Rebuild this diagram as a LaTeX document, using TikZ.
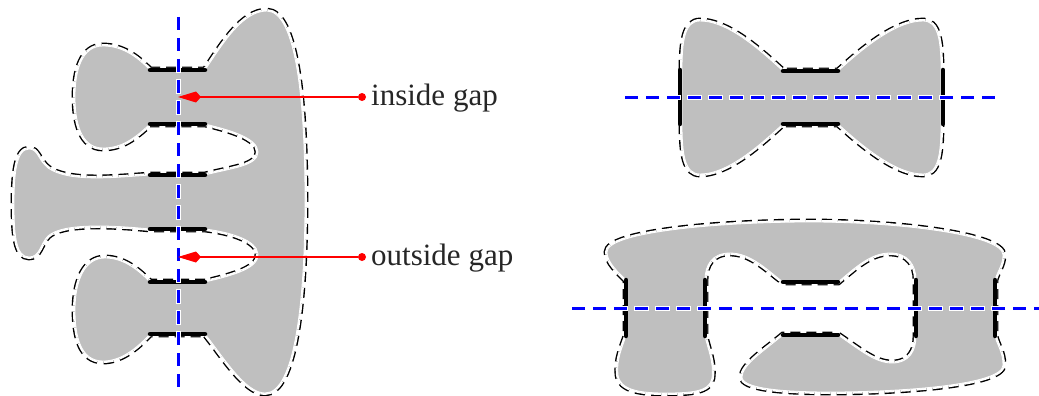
\documentclass[tikz,border=0pt]{standalone}
\usepackage{fontspec}
\setmainfont{Liberation Serif}
\usetikzlibrary{arrows.meta}
\definecolor{shapegray}{gray}{0.75}
\tikzset{
  outlinedash/.style={draw=black, line width=1.4pt, double=white, double distance=4pt, dash pattern=on 10pt off 6pt},
  region/.style={fill=shapegray, draw=white, line width=0.8pt},
  gapbar/.style={draw=black, line width=4.5pt, line cap=round},
  axisback/.style={draw=white, line width=5pt, dash pattern=on 15pt off 6pt, dash phase=1pt},
  axisfront/.style={draw=blue, line width=3pt, dash pattern=on 13pt off 8pt},
  reddot/.style={circle, fill=red, inner sep=0pt, minimum size=8pt},
  redarrow/.style={draw=red, line width=1.2pt, -{Kite[length=23pt, width=11pt, inset=5pt]}},
  lbl/.style={anchor=base west, inner sep=0pt, font=\fontsize{31}{36}\selectfont, text=black!85}
}
\begin{document}
\begin{tikzpicture}[x=1pt, y=-1pt]
\useasboundingbox (0,0) rectangle (1039,396);

% ---------- left shape ----------
\def\leftshape{(150,70) -- (205,70)
  .. controls (222,45) and (242,11) .. (267,11)
  .. controls (296,12) and (305,100) .. (305,200)
  .. controls (305,300) and (295,393) .. (265,393)
  .. controls (245,393) and (222,355) .. (205,334)
  -- (150,334)
  .. controls (135,350) and (120,361) .. (103,361)
  .. controls (80,361) and (75,335) .. (75,310)
  .. controls (75,280) and (85,258) .. (105,258)
  .. controls (125,258) and (140,272) .. (150,282)
  -- (205,282)
  .. controls (235,275) and (259,268) .. (258,254)
  .. controls (257,240) and (230,232) .. (205,229)
  -- (150,229)
  .. controls (110,225) and (62,223) .. (48,236)
  .. controls (40,244) and (40,257) .. (29,257)
  .. controls (16,257) and (14,235) .. (14,205)
  .. controls (14,175) and (16,149) .. (29,149)
  .. controls (38,149) and (38,160) .. (48,168)
  .. controls (68,182) and (110,178) .. (150,175)
  -- (205,175)
  .. controls (232,168) and (258,166) .. (258,152)
  .. controls (258,138) and (230,130) .. (205,124)
  -- (150,124)
  .. controls (135,138) and (122,148) .. (103,148)
  .. controls (80,148) and (75,120) .. (75,97)
  .. controls (75,70) and (82,46) .. (103,46)
  .. controls (125,46) and (140,60) .. (150,70) -- cycle}
\path[outlinedash] \leftshape;
\path[region] \leftshape;
\foreach \y in {70,124,175,229,282,334} \draw[gapbar] (150,\y) -- (205,\y);

% ---------- top right shape ----------
\def\bowshape{(682,70) .. controls (682,40) and (685,21) .. (700,21)
  .. controls (730,21) and (765,55) .. (783,71) -- (838,71)
  .. controls (856,55) and (893,21) .. (923,21)
  .. controls (938,21) and (941,40) .. (941,70) -- (941,124)
  .. controls (941,155) and (938,174) .. (923,174)
  .. controls (893,174) and (856,140) .. (838,124) -- (783,124)
  .. controls (765,140) and (730,174) .. (700,174)
  .. controls (685,174) and (682,155) .. (682,124) -- cycle}
\path[outlinedash] \bowshape;
\path[region] \bowshape;
\draw[gapbar] (680,70) -- (680,124);
\draw[gapbar] (943,70) -- (943,124);
\draw[gapbar] (783,71) -- (838,71);
\draw[gapbar] (783,124) -- (838,124);

% ---------- bottom right shape ----------
\def\ringshape{(626,280) .. controls (618,272) and (607,262) .. (607,252)
  .. controls (607,232) and (720,222) .. (810,222)
  .. controls (900,222) and (1003,235) .. (1003,255)
  .. controls (1003,265) and (997,272) .. (995,280) -- (995,336)
  .. controls (997,345) and (1003,352) .. (1003,365)
  .. controls (1003,385) and (900,392) .. (830,392)
  .. controls (780,392) and (742,388) .. (742,377)
  .. controls (742,365) and (765,350) .. (783,335) -- (838,335)
  .. controls (860,350) and (875,363) .. (892,363)
  .. controls (910,363) and (916,350) .. (916,336) -- (916,280)
  .. controls (916,265) and (908,253) .. (890,253)
  .. controls (870,253) and (855,268) .. (838,282) -- (783,282)
  .. controls (765,268) and (750,253) .. (730,253)
  .. controls (712,253) and (705,265) .. (705,280) -- (705,336)
  .. controls (708,350) and (714,362) .. (712,378)
  .. controls (710,392) and (690,393) .. (665,393)
  .. controls (640,393) and (620,390) .. (618,375)
  .. controls (616,360) and (623,345) .. (626,336) -- cycle}
\path[outlinedash] \ringshape;
\path[region] \ringshape;
\foreach \x in {626,705,916,995} \draw[gapbar] (\x,280) -- (\x,336);
\draw[gapbar] (783,282) -- (838,282);
\draw[gapbar] (783,335) -- (838,335);

% ---------- axes ----------
\coordinate (a1) at (178,17);  \coordinate (a2) at (178,390);
\coordinate (b1) at (625,97);  \coordinate (b2) at (998,97);
\coordinate (c1) at (572,308); \coordinate (c2) at (1039,308);
\foreach \p/\q in {a1/a2,b1/b2,c1/c2} {
  \draw[axisback] (\p) -- (\q);
  \draw[axisfront] (\p) -- (\q);
}

% ---------- labels ----------
\node[reddot] (d1) at (362,97) {};
\node[reddot] (d2) at (362,257) {};
\coordinate (t1) at (178,97);
\coordinate (t2) at (178,257);
\draw[redarrow] (d1) -- (t1);
\draw[redarrow] (d2) -- (t2);
\node[lbl] (l1) at (371,105) {inside gap};
\node[lbl] (l2) at (371,265) {outside gap};
\end{tikzpicture}
\end{document}
